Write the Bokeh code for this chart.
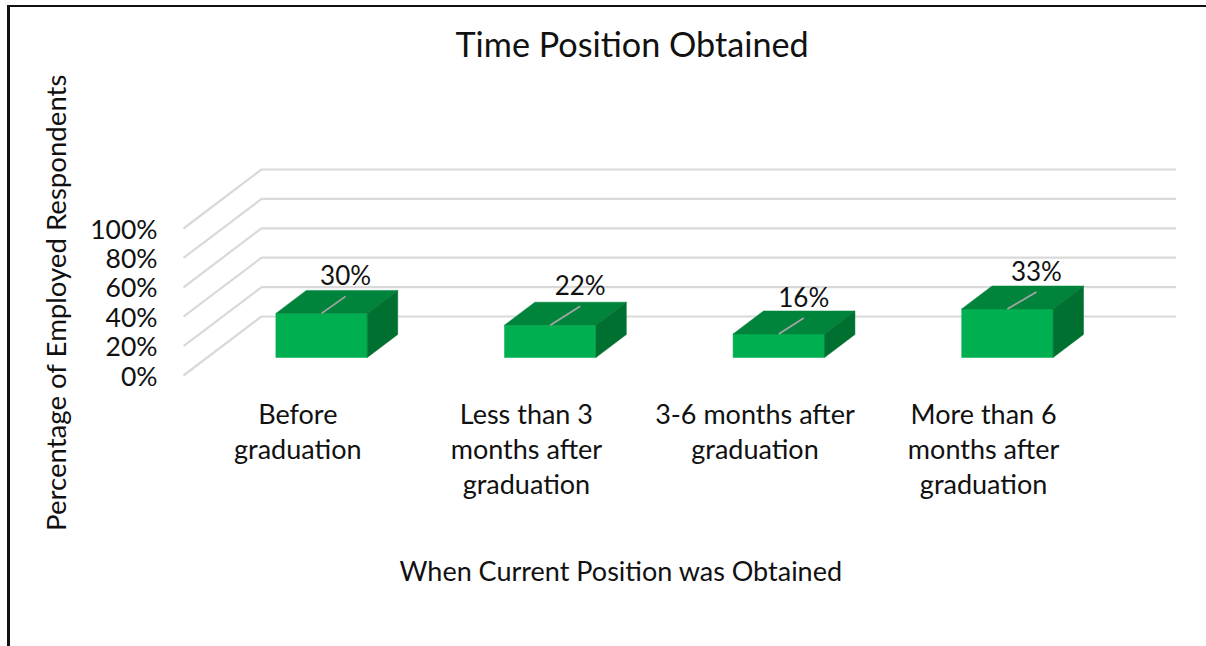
from bokeh.plotting import figure
from bokeh.models import Range1d, FixedTicker, Title
from bokeh.core.properties import value
from bokeh.embed import file_html
from bokeh.resources import INLINE

categories = ["Before\ngraduation", "Less than 3\nmonths after\ngraduation",
              "3-6 months after\ngraduation", "More than 6\nmonths after\ngraduation"]
percent = [30, 22, 16, 33]
y_ticks = [0, 20, 40, 60, 80, 100]
title = "Time Position Obtained"
x_title = "When Current Position was Obtained"
y_title = "Percentage of Employed Respondents"

FONT = "Lato"
SLOT_PX = 228.6
PCT_PX = 1.47
DEPTH_X = 78 / SLOT_PX
DEPTH_Y = 59 / PCT_PX

def proj(x, y, z):
    return x + z * DEPTH_X, y + z * DEPTH_Y

OX, OY = 10, 7   # page position of the canvas corner
FL, FR, FT, FB = 159, 1206, 160, 444
p = figure(frame_width=FR - FL, frame_height=FB - FT, output_backend="svg", toolbar_location=None,
           x_range=Range1d((FL - 183) / SLOT_PX, (FR - 183) / SLOT_PX),
           y_range=Range1d((375 - FB) / PCT_PX, (375 - FT) / PCT_PX),
           min_border_left=FL - OX, min_border_right=0, min_border_top=FT - OY, min_border_bottom=646 - FB,
           background_fill_color="white", border_fill_color="white", outline_line_color=None,
           margin=(5, 0, 0, 7))
p.styles = {"border-left": "3px solid #111111", "border-top": "2px solid #111111"}
p.grid.visible = False

p.yaxis.ticker = FixedTicker(ticks=y_ticks)
p.yaxis.major_label_overrides = {t: f"{t}%" for t in y_ticks}
p.xaxis.ticker = FixedTicker(ticks=[i + 0.5 for i in range(len(categories))])
p.xaxis.major_label_overrides = {i + 0.5: c for i, c in enumerate(categories)}
for ax in (p.xaxis, p.yaxis):
    ax.axis_line_color = None
    ax.major_tick_line_color = None
    ax.minor_tick_line_color = None
    ax.major_tick_out = 0
    ax.major_tick_in = 0
    ax.major_label_text_font = FONT
    ax.major_label_text_color = "#111111"
p.xaxis.major_label_text_line_height = 1.07
p.xaxis.major_label_text_font_size = "27px"
p.yaxis.major_label_text_font_size = "26.5px"
p.yaxis.major_label_standoff = 2
p.xaxis.major_label_standoff = -48
p.yaxis.axis_label = y_title
p.yaxis.axis_label_text_font = FONT
p.yaxis.axis_label_text_font_size = "27.6px"
p.yaxis.axis_label_text_font_style = "normal"
p.yaxis.axis_label_text_color = "#111111"
p.yaxis.axis_label_standoff = 15

# a blank title holds the real one up at its place, well above the frame
p.add_layout(Title(text=" ", text_font_size="10px", standoff=67), "above")
p.title = Title(text=title, align="left", offset=296, vertical_align="top", text_font=FONT,
                text_font_size="34.2px", text_font_style="normal", text_color="#111111", standoff=30)
p.add_layout(Title(text=x_title, align="left", offset=240, vertical_align="top", text_font=FONT,
                   text_font_size="27px", text_font_style="normal", text_color="#111111", standoff=101), "below")

n = len(categories)
xs, ys = [], []
for t in y_ticks:
    a = proj(0, t, 0); b = proj(0, t, 1); c = proj(n, t, 1)
    xs.append([a[0], b[0], c[0]]); ys.append([a[1], b[1], c[1]])
p.multi_line(xs, ys, line_color="#D9D9D9", line_width=2.2)

BAR_W = 0.4
Z0, Z1 = 0.305, 0.695
# reach of each data label's leader line, in pixels
LEADER_PX = [(24, 17), (30, 19), (25, 16), (29, 17)]
for i, v in enumerate(percent):
    l, r = i + 0.5 - BAR_W / 2, i + 0.5 + BAR_W / 2
    corners = lambda pts: ([proj(*q)[0] for q in pts], [proj(*q)[1] for q in pts])
    fx, fy = corners([(l, 0, Z0), (r, 0, Z0), (r, v, Z0), (l, v, Z0)])
    tx, ty = corners([(l, v, Z0), (r, v, Z0), (r, v, Z1), (l, v, Z1)])
    sx, sy = corners([(r, 0, Z0), (r, 0, Z1), (r, v, Z1), (r, v, Z0)])
    p.patch(fx, fy, fill_color="#00B050", line_color="#00B050", line_width=0.5)
    p.patch(tx, ty, fill_color="#00843C", line_color="#00843C", line_width=0.5)
    p.patch(sx, sy, fill_color="#007030", line_color="#007030", line_width=0.5)
    x0, y0 = proj(i + 0.5, v, Z0)
    x1, y1 = x0 + LEADER_PX[i][0] / SLOT_PX, y0 + LEADER_PX[i][1] / PCT_PX
    p.line([x0, x1], [y0, y1], line_color="#A6A6A6", line_width=1.7)
    p.text([x1], [y1], text=[f"{v}%"], text_font=value(FONT), text_font_size="26px",
           text_color="#111111", text_align="center", text_baseline="middle", y_offset=-21)

open("out.html", "w").write(file_html(p, INLINE))
